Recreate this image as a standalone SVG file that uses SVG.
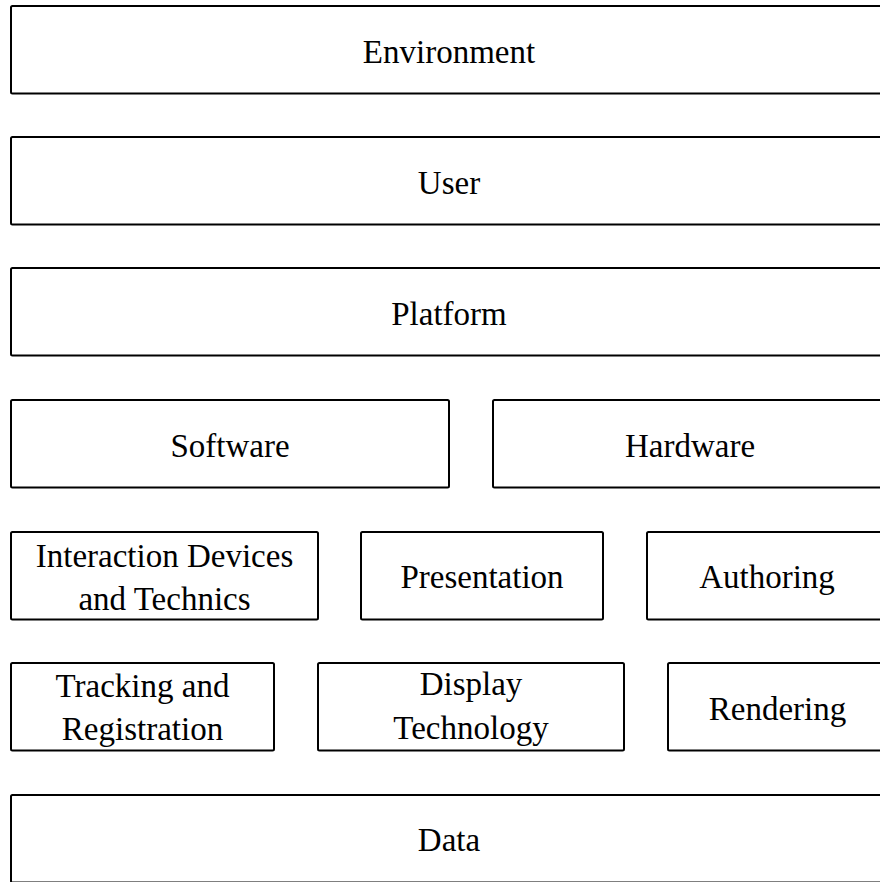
<svg xmlns="http://www.w3.org/2000/svg" width="880" height="882" viewBox="0 0 880 882">
<style>
rect.b{fill:#fff;stroke:#000;stroke-width:2}
text{font-family:"Liberation Serif","Times New Roman","DejaVu Serif",serif;font-size:33px;text-anchor:middle;fill:#000}
</style>
<rect width="880" height="882" fill="#fff"/>
<g id="environment"><rect class="b" x="11" y="6" width="876" height="87.5" rx="1.5"/><text x="449" y="62.5">Environment</text></g>
<g id="user"><rect class="b" x="11" y="137" width="876" height="87.5" rx="1.5"/><text x="449" y="193.5">User</text></g>
<g id="platform"><rect class="b" x="11" y="268" width="876" height="87.5" rx="1.5"/><text x="449" y="324.5">Platform</text></g>
<g id="software"><rect class="b" x="11" y="400" width="438" height="87.5" rx="1.5"/><text x="230" y="456.5">Software</text></g>
<g id="hardware"><rect class="b" x="493" y="400" width="394" height="87.5" rx="1.5"/><text x="690" y="456.5">Hardware</text></g>
<g id="interaction"><rect class="b" x="11" y="532" width="307" height="87.5" rx="1.5"/><text x="164.5" y="566.5">Interaction Devices</text><text x="164.5" y="610">and Technics</text></g>
<g id="presentation"><rect class="b" x="361" y="532" width="242" height="87.5" rx="1.5"/><text x="482" y="588">Presentation</text></g>
<g id="authoring"><rect class="b" x="647" y="532" width="240" height="87.5" rx="1.5"/><text x="767" y="588">Authoring</text></g>
<g id="tracking"><rect class="b" x="11" y="663" width="263" height="87.5" rx="1.5"/><text x="142.5" y="696.5">Tracking and</text><text x="142.5" y="739.5">Registration</text></g>
<g id="display"><rect class="b" x="318" y="663" width="306" height="87.5" rx="1.5"/><text x="471" y="695">Display</text><text x="471" y="739">Technology</text></g>
<g id="rendering"><rect class="b" x="668" y="663" width="219" height="87.5" rx="1.5"/><text x="777.5" y="719.5">Rendering</text></g>
<g id="data"><rect class="b" x="11" y="795" width="876" height="87.5" rx="1.5"/><text x="449" y="851">Data</text></g>
<g id="connectors"></g>
</svg>
